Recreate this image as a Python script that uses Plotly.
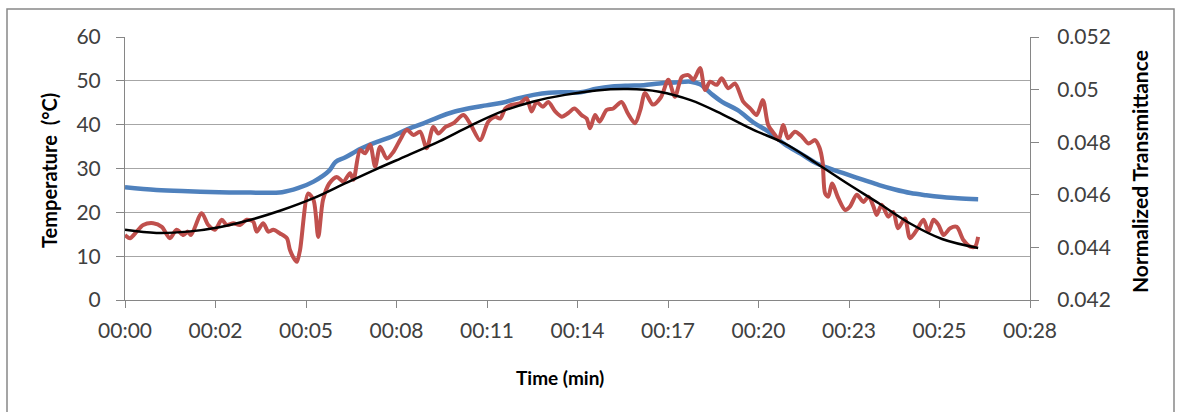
import plotly.graph_objects as go

# ---- data (time in minutes) ----
temp_t = [0, 1, 2, 3, 4, 5, 5.5, 6, 6.5, 6.7, 7, 7.5, 8, 8.5, 9, 9.5, 10, 10.5, 11, 11.5,
          12, 12.5, 13, 13.5, 14, 14.5, 15, 15.5, 16, 16.5, 17, 17.5, 18, 18.3, 18.7, 19,
          19.5, 20, 20.5, 21, 21.5, 22, 22.5, 23, 23.5, 24, 24.5, 25, 25.5, 26, 26.5, 27.15]
temp_c = [25.7, 25.1, 24.8, 24.6, 24.5, 24.6, 25.5, 27.0, 29.5, 31.5, 32.5, 34.5, 36.0, 37.3,
          39.0, 40.3, 41.8, 43.0, 43.8, 44.4, 45.0, 46.0, 46.8, 47.3, 47.4, 47.4, 48.2, 48.7,
          48.9, 49.0, 49.4, 49.6, 49.8, 49.2, 46.8, 45.2, 43.3, 40.5, 38.3, 35.5, 33.4, 31.2,
          29.8, 28.6, 27.4, 26.2, 25.2, 24.4, 23.9, 23.5, 23.2, 23.0]

trans_t = [0, 0.16, 0.32, 0.58, 0.9, 1.17, 1.43, 1.64, 1.86, 2.0, 2.1, 2.44, 2.65, 2.86,
           3.08, 3.24, 3.45, 3.66, 3.87, 4.08, 4.19, 4.4, 4.56, 4.72, 4.93, 5.15, 5.25, 5.41,
           5.47, 5.57, 5.83, 6.0, 6.15, 6.3, 6.5, 6.74, 6.95, 7.16, 7.27, 7.48, 7.64, 7.8,
           7.96, 8.12, 8.33, 8.54, 8.75, 8.97, 9.18, 9.39, 9.6, 9.81, 9.97, 10.2, 10.45,
           10.77, 11.0, 11.3, 11.56, 11.78, 11.94, 12.1, 12.3, 12.57, 12.78, 12.94, 13.1,
           13.3, 13.47, 13.69, 13.9, 14.1, 14.3, 14.53, 14.69, 14.8, 14.96, 15.1, 15.33,
           15.54, 15.8, 16.0, 16.23, 16.4, 16.55, 16.8, 17.05, 17.29, 17.5, 17.72, 17.93,
           18.09, 18.3, 18.46, 18.62, 18.83, 18.99, 19.2, 19.41, 19.68, 19.9, 20.1, 20.3,
           20.47, 20.69, 20.8, 20.95, 21.1, 21.32, 21.54, 21.75, 21.96, 22.1, 22.2, 22.28,
           22.38, 22.5, 22.7, 22.92, 23.07, 23.29, 23.5, 23.66, 23.82, 23.92, 24.08, 24.29,
           24.45, 24.6, 24.82, 24.98, 25.2, 25.41, 25.57, 25.73, 25.89, 26.05, 26.26, 26.47,
           26.68, 26.9, 27.05, 27.15]
trans_v = [0.04447, 0.04435, 0.04453, 0.04485, 0.04492, 0.04478, 0.04435, 0.04467, 0.04447,
           0.04460, 0.04447, 0.04530, 0.04485, 0.04467, 0.04505, 0.04485, 0.04492, 0.04485,
           0.04505, 0.04498, 0.04460, 0.04492, 0.04460, 0.04467, 0.04453, 0.04435, 0.04390,
           0.04352, 0.04345, 0.04390, 0.04605, 0.04580, 0.04440, 0.04580, 0.04643, 0.04668,
           0.04650, 0.04682, 0.04657, 0.04770, 0.04758, 0.04790, 0.04707, 0.04783, 0.04738,
           0.04763, 0.04808, 0.04847, 0.04827, 0.04840, 0.04777, 0.04858, 0.04833, 0.04858,
           0.04872, 0.04903, 0.04867, 0.04808, 0.04878, 0.04897, 0.04890, 0.04928, 0.04942,
           0.04948, 0.04967, 0.04917, 0.04953, 0.04935, 0.04953, 0.04917, 0.04897, 0.04910,
           0.04928, 0.04903, 0.04890, 0.04853, 0.04903, 0.04878, 0.04923, 0.04928, 0.04953,
           0.04910, 0.04872, 0.04923, 0.04987, 0.04943, 0.04970, 0.05037, 0.04973, 0.05048,
           0.05055, 0.05037, 0.05082, 0.04998, 0.05030, 0.05018, 0.05043, 0.05005, 0.05023,
           0.04953, 0.04928, 0.04903, 0.04960, 0.04865, 0.04827, 0.04808, 0.04865, 0.04815,
           0.04840, 0.04822, 0.04795, 0.04808, 0.04780, 0.04725, 0.04605, 0.04593, 0.04643,
           0.04587, 0.04542, 0.04555, 0.04600, 0.04573, 0.04593, 0.04555, 0.04523, 0.04562,
           0.04517, 0.04535, 0.04473, 0.04510, 0.04435, 0.04467, 0.04505, 0.04460, 0.04505,
           0.04485, 0.04447, 0.04473, 0.04478, 0.04428, 0.04403, 0.04403, 0.04440]

fit_t = [0, 1, 2, 3, 4, 5, 6, 7, 8, 9, 10, 11, 12, 13, 14, 15, 16, 17, 18, 19, 20, 21, 22,
         23, 24, 25, 26, 27.15]
fit_v = [0.04467, 0.04455, 0.04460, 0.04477, 0.04505, 0.04542, 0.04587, 0.04643, 0.04698,
         0.04750, 0.04803, 0.04863, 0.04917, 0.04955, 0.04980, 0.04997, 0.05002, 0.04992,
         0.04960, 0.04907, 0.04847, 0.04795, 0.04720, 0.04642, 0.04567, 0.04490, 0.04432,
         0.04398]

x_tickvals = [0, 2.88, 5.76, 8.64, 11.52, 14.4, 17.28, 20.16, 23.04, 25.92, 28.8]
x_ticktext = ["00:00", "00:02", "00:05", "00:08", "00:11", "00:14", "00:17", "00:20",
              "00:23", "00:25", "00:28"]
y2_tickvals = [0.042, 0.044, 0.046, 0.048, 0.050, 0.052]
y2_ticktext = ["0.042", "0.044", "0.046", "0.048", "0.05", "0.052"]

FONT = "Lato"
AX = "#868686"

fig = go.Figure()
fig.add_trace(go.Scatter(x=temp_t, y=temp_c, mode="lines", name="Temperature",
                         line=dict(color="#4f81bd", width=4.5, shape="spline"),
                         showlegend=False))
fig.add_trace(go.Scatter(x=trans_t, y=trans_v, mode="lines", name="Transmittance",
                         yaxis="y2",
                         line=dict(color="#c0504d", width=4, shape="spline", smoothing=0.8),
                         showlegend=False))
fig.add_trace(go.Scatter(x=fit_t, y=fit_v, mode="lines", name="Fit", yaxis="y2",
                         line=dict(color="#000000", width=2.5, shape="spline"),
                         showlegend=False))

fig.update_layout(
    width=1177, height=412,
    margin=dict(l=125, r=147, t=37, b=112),
    paper_bgcolor="white", plot_bgcolor="white",
    font=dict(family=FONT, color="#404040"),
    xaxis=dict(range=[0, 28.8], tickvals=x_tickvals, ticktext=x_ticktext,
               showgrid=False, zeroline=False, showline=True, linecolor=AX, linewidth=1,
               ticks="outside", ticklen=7, tickcolor=AX, tickfont=dict(size=21, color="#404040"),
               ticklabelstandoff=5),
    yaxis=dict(range=[0, 60], dtick=10, showgrid=True, gridcolor="#a6a6a6", gridwidth=1,
               zeroline=False, showline=True, linecolor=AX, linewidth=1,
               ticks="outside", ticklen=8, tickcolor=AX,
               tickfont=dict(size=21, color="#404040"), ticklabelstandoff=11),
    yaxis2=dict(range=[0.042, 0.052], tickvals=y2_tickvals, ticktext=y2_ticktext,
                overlaying="y", side="right", showgrid=False, zeroline=False,
                showline=True, linecolor=AX, linewidth=1, ticks="outside", ticklen=8,
                tickcolor=AX, tickfont=dict(size=21, color="#404040"), ticklabelstandoff=14),
    shapes=[dict(type="rect", xref="paper", yref="paper",
                 x0=(7 - 125) / 905, x1=(1174 - 125) / 905,
                 y0=(300 - 430) / 263, y1=(300 - 9) / 263,
                 line=dict(color="#888888", width=1.5), fillcolor="rgba(0,0,0,0)",
                 layer="below")],
    annotations=[
        dict(text="<b>Temperature  (°C)</b>", xref="paper", yref="paper",
             x=(49 - 125) / 905, y=(300 - 171) / 263, textangle=-90, showarrow=False,
             xanchor="center", yanchor="middle",
             font=dict(size=20, color="#000000", family=FONT)),
        dict(text="<b>Normalized Transmittance</b>", xref="paper", yref="paper",
             x=(1139 - 125) / 905, y=(300 - 172) / 263, textangle=-90, showarrow=False,
             xanchor="center", yanchor="middle",
             font=dict(size=21, color="#000000", family=FONT)),
        dict(text="<b>Time (min)</b>", xref="paper", yref="paper",
             x=(560 - 125) / 905, y=(300 - 377) / 263, showarrow=False,
             xanchor="center", yanchor="middle",
             font=dict(size=19, color="#000000", family=FONT)),
    ],
)

fig.write_html("out.html")
